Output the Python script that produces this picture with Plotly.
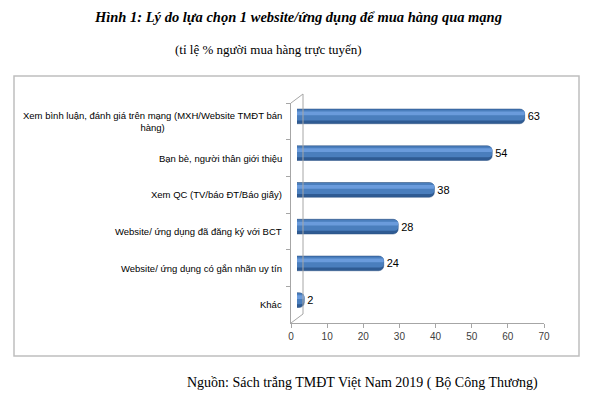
import plotly.graph_objects as go

# chart data, top to bottom
categories = [
    "Xem bình luận, đánh giá trên mạng (MXH/Website TMĐT bán<br>hàng)",
    "Bạn bè, người thân giới thiệu",
    "Xem QC (TV/báo ĐT/Báo giấy)",
    "Website/ ứng dụng đã đăng ký với BCT",
    "Website/ ứng dụng có gắn nhãn uy tín",
    "Khác",
]
values = [63, 54, 38, 28, 24, 2]
x_ticks = [0, 10, 20, 30, 40, 50, 60, 70]

title = "Hình 1: Lý do lựa chọn 1 website/ứng dụng để mua hàng qua mạng"
subtitle = "(tỉ lệ % người mua hàng trực tuyến)"
source = "Nguồn: Sách trắng TMĐT Việt Nam 2019 ( Bộ Công Thương)"

# the page body has an 8px margin, so the figure sits 8px in from the window
OFF = 8
W, H = 600 - OFF, 405 - OFF
L, R, T, B = 291 - OFF, 50, 98 - OFF, 82
PW, PH = W - L - R, H - T - B


# window pixel -> paper helpers
def px(x):
    return (x - OFF - L) / PW


def py(y):
    return (H - B - (y - OFF)) / PH


sans = "Liberation Sans"
serif = "Liberation Serif"

fig = go.Figure()

# cylinder look: dark base, mid tone, light highlight
fig.add_trace(go.Bar(
    x=values, y=categories, orientation="h",
    width=0.4, offset=-0.2,
    marker=dict(color="#2f5b93", line=dict(color="#2b5182", width=0.5), cornerradius=5),
    text=values, textposition="outside", cliponaxis=False,
    textfont=dict(family=sans, size=11, color="black"),
    hoverinfo="skip",
))
fig.add_trace(go.Bar(
    x=values, y=categories, orientation="h",
    width=0.3, offset=-0.19,
    marker=dict(color="#4a7ebd", line=dict(width=0), cornerradius=4),
    hoverinfo="skip",
))
fig.add_trace(go.Bar(
    x=values, y=categories, orientation="h",
    width=0.1, offset=-0.13,
    marker=dict(color="#6a9bdc", line=dict(width=0), cornerradius=3),
    hoverinfo="skip",
))
# front plane axes (invisible trace so the axes exist)
fig.add_trace(go.Bar(
    x=values, y=categories, orientation="h",
    xaxis="x2", yaxis="y2", opacity=0, hoverinfo="skip",
))

axis_grey = "#a6a6a6"

fig.update_layout(
    width=W, height=H,
    margin=dict(l=L, r=R, t=T, b=B),
    paper_bgcolor="white", plot_bgcolor="rgba(0,0,0,0)",
    barmode="overlay", showlegend=False,
    xaxis=dict(domain=[6 / PW, 1], range=[0, 70], visible=False),
    yaxis=dict(domain=[4.5 / PH, 1], autorange="reversed", visible=False,
               categoryorder="array", categoryarray=categories),
    xaxis2=dict(domain=[0, 253 / PW], range=[0, 70], anchor="y2",
                tickvals=x_ticks, showgrid=False, zeroline=False,
                showline=True, linecolor=axis_grey, linewidth=1,
                ticks="outside", ticklen=4, tickcolor=axis_grey,
                tickfont=dict(family=sans, size=10, color="#404040")),
    yaxis2=dict(domain=[0, 220 / PH], anchor="x2", autorange="reversed",
                categoryorder="array", categoryarray=categories,
                showgrid=False, zeroline=False, showticklabels=False,
                showline=True, linecolor=axis_grey, linewidth=1,
                ticks="outside", tickson="boundaries", ticklen=4, tickcolor=axis_grey),
)

# 3D back wall edges and outer frame
line = dict(color=axis_grey, width=1)
fig.add_shape(type="line", xref="paper", yref="paper",
              x0=px(291), y0=py(103), x1=px(303), y1=py(94), line=line)
fig.add_shape(type="line", xref="paper", yref="paper",
              x0=px(303), y0=py(94), x1=px(303), y1=py(314), line=line)
fig.add_shape(type="line", xref="paper", yref="paper",
              x0=px(291), y0=py(323), x1=px(303), y1=py(314), line=line)
fig.add_shape(type="rect", xref="paper", yref="paper",
              x0=px(14), y0=py(356), x1=px(579), y1=py(76),
              line=dict(color="#bfbfbf", width=1.5))

# category labels (centred lines, right edge at the axis)
for c in categories:
    fig.add_annotation(xref="paper", yref="y2", x=px(284), y=c,
                       text=c, showarrow=False, xanchor="right", yanchor="middle",
                       align="center",
                       font=dict(family=sans, size=9.5, color="black"))

fig.add_annotation(xref="paper", yref="paper", x=px(298), y=py(17),
                   text="<b><i>" + title + "</i></b>", showarrow=False,
                   xanchor="center", yanchor="middle",
                   font=dict(family=serif, size=14.5, color="black"))
fig.add_annotation(xref="paper", yref="paper", x=px(268), y=py(50),
                   text=subtitle, showarrow=False,
                   xanchor="center", yanchor="middle",
                   font=dict(family=serif, size=13, color="black"))
fig.add_annotation(xref="paper", yref="paper", x=px(362), y=py(383),
                   text=source, showarrow=False,
                   xanchor="center", yanchor="middle",
                   font=dict(family=serif, size=14, color="black"))

fig.write_html("out.html")
